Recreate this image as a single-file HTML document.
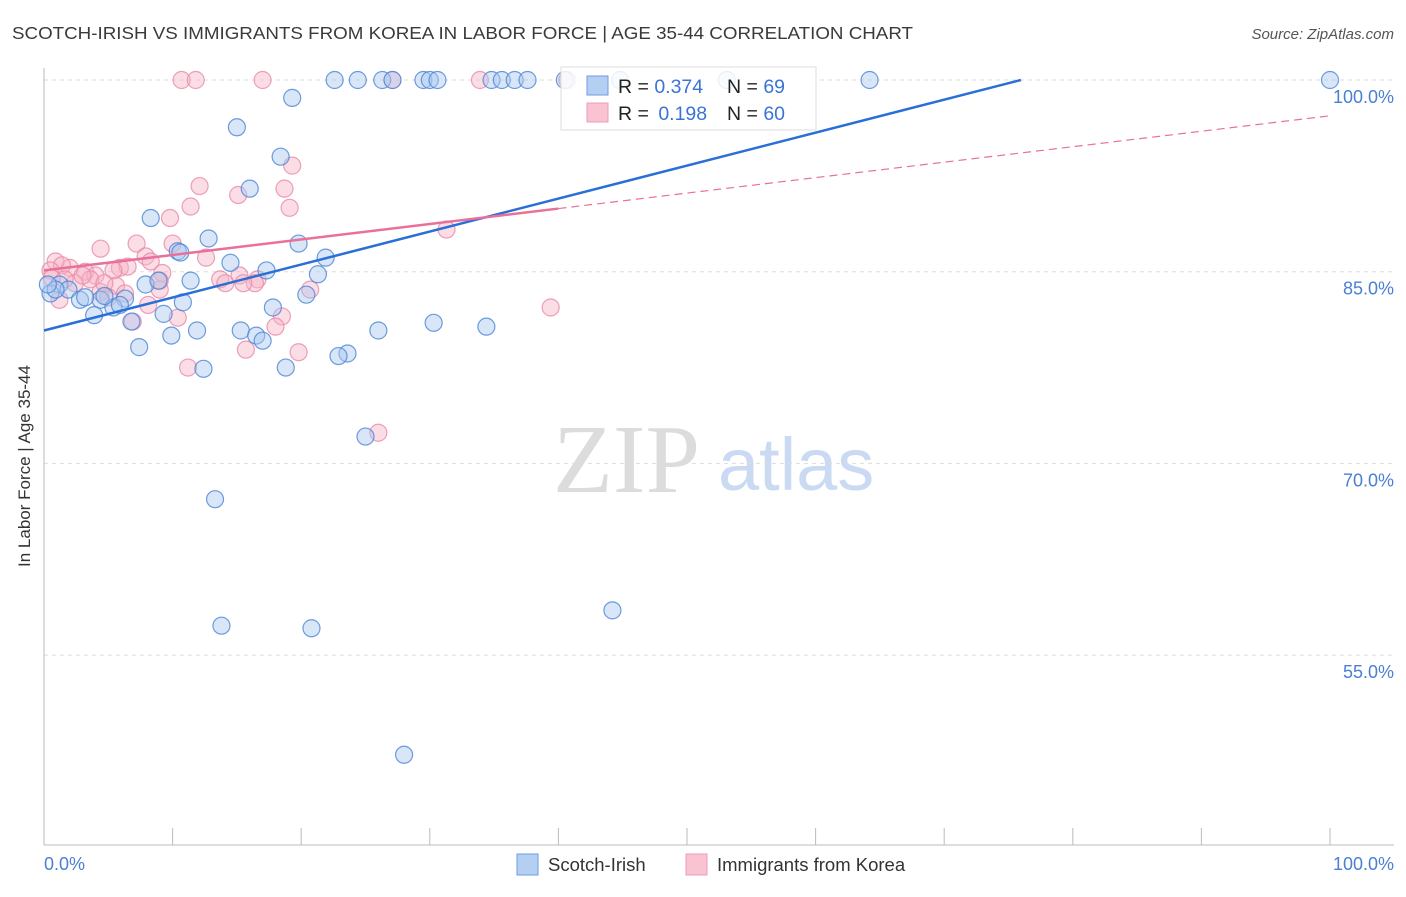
<!DOCTYPE html>
<html><head><meta charset="utf-8"><style>
body{margin:0;background:#fff;font-family:"Liberation Sans",sans-serif}
</style></head><body>
<svg width="1406" height="892" viewBox="0 0 1406 892" xmlns="http://www.w3.org/2000/svg">
<text x="12" y="39" font-size="17.5" fill="#3a3a3a" textLength="901" lengthAdjust="spacingAndGlyphs">SCOTCH-IRISH VS IMMIGRANTS FROM KOREA IN LABOR FORCE | AGE 35-44 CORRELATION CHART</text>
<text x="1394" y="39" font-size="15" font-style="italic" fill="#555" text-anchor="end">Source: ZipAtlas.com</text>
<g>
<text x="553" y="492" font-family="Liberation Serif,serif" font-size="98" fill="#dcdcdc">ZIP</text>
<text x="718" y="490" font-size="74" fill="#c9daf2">atlas</text>
</g>
<g id="grid"></g>
<line x1="44" y1="68" x2="44" y2="845" stroke="#bbb"/>
<line x1="44" y1="845" x2="1394" y2="845" stroke="#bbb"/>
<g id="xticks"></g>
<text x="22" y="458" font-size="17" fill="#333" transform="rotate(-90 30 458)" text-anchor="middle">In Labor Force | Age 35-44</text>
<text x="44" y="870" font-size="18" fill="#4a7fd4">0.0%</text>
<text x="1394" y="870" font-size="18" fill="#4a7fd4" text-anchor="end">100.0%</text>
<g id="pts"></g>
<g id="lines"></g>
<g>
<rect x="561" y="67" width="255" height="63" fill="#fff" fill-opacity="0.85" stroke="#ddd"/>
<rect x="587" y="76" width="21" height="19" fill="#b5cff3" stroke="#6e9be0"/>
<rect x="587" y="103" width="21" height="19" fill="#f9c3d2" stroke="#ec9db4"/>
<text x="618" y="93" font-size="19.5" fill="#222">R = <tspan fill="#3a74d4">0.374</tspan></text>
<text x="727" y="93" font-size="19.5" fill="#222">N = <tspan fill="#3a74d4">69</tspan></text>
<text x="618" y="120" font-size="19.5" fill="#222">R = <tspan fill="#3a74d4" dx="4">0.198</tspan></text>
<text x="727" y="120" font-size="19.5" fill="#222">N = <tspan fill="#3a74d4">60</tspan></text>
</g>
<g>
<rect x="517" y="854" width="21" height="21" fill="#b5cff3" stroke="#6e9be0"/>
<text x="548" y="871" font-size="18.5" fill="#333">Scotch-Irish</text>
<rect x="686" y="854" width="21" height="21" fill="#f9c3d2" stroke="#ec9db4"/>
<text x="717" y="871" font-size="18.5" fill="#333">Immigrants from Korea</text>
</g>
</svg>
<script>
const yTicks=[100,85,70,55];
const yTickLabels=["100.0%","85.0%","70.0%","55.0%"];
const xTicks=[0,10,20,30,40,50,60,70,80,90,100];
const blueX=[22.6,24.4,26.3,27.1,29.5,30.0,30.6,34.8,35.6,36.6,37.6,40.5,44.8,53.1,64.2,100,19.3,15.0,18.4,16.0,8.3,12.8,19.8,10.4,21.9,14.5,17.3,21.3,11.4,7.9,8.9,1.2,1.9,2.8,4.4,6.3,5.4,5.9,3.9,9.3,10.8,20.4,17.8,6.8,11.9,9.9,15.3,16.5,17.0,7.4,26.0,30.3,34.4,23.6,22.9,12.4,18.8,25.0,13.3,13.8,20.8,44.2,28.0,0.5,0.9,0.3,3.2,4.7,10.6];
const blueY=[100,100,100,100,100,100,100,100,100,100,100,100,100,100,100,100,98.6,96.3,94.0,91.5,89.2,87.6,87.2,86.6,86.1,85.7,85.1,84.8,84.3,84.0,84.3,84.0,83.6,82.8,82.8,82.9,82.2,82.4,81.6,81.7,82.6,83.2,82.2,81.1,80.4,80.0,80.4,80.0,79.6,79.1,80.4,81.0,80.7,78.6,78.4,77.4,77.5,72.1,67.2,57.3,57.1,58.5,47.2,83.3,83.6,84.0,83.0,83.1,86.5];
const pinkX=[10.7,11.8,17.0,27.1,33.9,40.7,19.3,12.1,15.1,18.7,19.1,11.4,9.8,31.3,4.4,7.2,10.0,12.6,7.9,8.3,5.9,6.5,5.4,3.2,4.0,2.0,0.9,1.4,0.5,9.2,13.7,15.2,16.6,16.4,15.5,14.1,5.6,4.4,6.3,5.0,9.0,8.1,10.4,18.5,20.7,18.0,15.7,19.8,11.2,26.0,39.4,6.9,1.2,2.4,3.6,4.7,1.6,0.6,3.0,9.0];
const pinkY=[100,100,100,100,100,100,93.3,91.7,91.0,91.5,90.0,90.1,89.2,88.3,86.8,87.2,87.2,86.1,86.2,85.8,85.3,85.4,85.1,85.0,84.7,85.3,85.8,85.5,85.1,84.9,84.4,84.7,84.4,84.1,84.1,84.1,83.9,83.4,83.3,83.0,83.6,82.4,81.4,81.5,83.6,80.7,78.9,78.7,77.5,72.4,82.2,81.1,82.8,84.1,84.4,84.1,84.4,84.5,84.7,84.3];
const blueTrend=[80.4,0.258];
const pinkTrend=[85.1,0.121];
const NS="http://www.w3.org/2000/svg";
const xs=v=>44+v*12.86;
const ys=v=>80+(100-v)*12.78;
function mk(tag,attrs,parent){const e=document.createElementNS(NS,tag);for(const k in attrs)e.setAttribute(k,attrs[k]);parent.appendChild(e);return e;}
const grid=document.getElementById('grid');
yTicks.forEach((t,i)=>{
 const l=mk('line',{x1:44,x2:1394,y1:ys(t),y2:ys(t),stroke:'#ddd','stroke-dasharray':'4,4'},grid);
 
 
 const tx=mk('text',{x:1394,y:ys(t)+23,'font-size':18,fill:'#4a7fd4','text-anchor':'end'},grid);
 tx.textContent=yTickLabels[i];
 
 
});
const xt=document.getElementById('xticks');
xTicks.forEach(t=>{
 const l=mk('line',{x1:xs(t),x2:xs(t),y1:828,y2:845,stroke:'#bbb'},xt);
 
 
});
const pts=document.getElementById('pts');
function drawSeries(X,Y,fill,stroke,name){
 X.forEach((x,i)=>{
  const c=mk('circle',{cx:xs(x),cy:ys(Y[i]),r:8.5,fill:fill,'fill-opacity':0.45,stroke:stroke,'stroke-width':1.2,'stroke-opacity':0.8},pts);
  
  
 });
}
drawSeries(pinkX,pinkY,'#f7b3c6','#e98aa6','point-korea');
drawSeries(blueX,blueY,'#a9c8f0','#4a85d6','point-scotch-irish');
const lines=document.getElementById('lines');
const bEnd=(100-blueTrend[0])/blueTrend[1];
let l=mk('line',{x1:xs(0),y1:ys(blueTrend[0]),x2:xs(bEnd),y2:ys(100),stroke:'#2a6fd6','stroke-width':2.5},lines);


l=mk('line',{x1:xs(0),y1:ys(pinkTrend[0]),x2:xs(40),y2:ys(pinkTrend[0]+40*pinkTrend[1]),stroke:'#e8709a','stroke-width':2.5},lines);


l=mk('line',{x1:xs(40),y1:ys(pinkTrend[0]+40*pinkTrend[1]),x2:xs(100),y2:ys(pinkTrend[0]+100*pinkTrend[1]),stroke:'#e8709a','stroke-width':1.2,'stroke-dasharray':'8,5'},lines);


</script>
</body></html>
